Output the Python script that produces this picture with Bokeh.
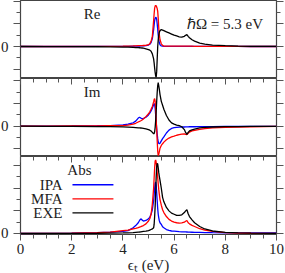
from bokeh.plotting import figure
from bokeh.layouts import column
from bokeh.models import LinearAxis, FixedTicker, SingleIntervalTicker, Label, Range1d
from bokeh.embed import file_html
from bokeh.resources import INLINE

# ---------------- data ----------------
X = [0, 1, 2, 3,
     3.5, 4.0, 4.2, 4.4, 4.5,
     4.6, 4.65, 4.7, 4.75, 4.8,
     4.9, 5.0, 5.05, 5.1, 5.15,
     5.2, 5.22, 5.24, 5.26, 5.28,
     5.30, 5.32, 5.34, 5.36, 5.38,
     5.40, 5.42, 5.45, 5.5, 5.55,
     5.6, 5.7, 5.8, 5.9, 6.0,
     6.1, 6.2, 6.3, 6.4, 6.45,
     6.5, 6.55, 6.6, 6.7, 6.8,
     7.0, 7.2, 7.5, 8.0, 8.5,
     9.0, 10.0]

re_ipa = [0, 0, 0, 0.01,
          0.01, 0.02, 0.02, 0.03, 0.03,
          0.04, 0.04, 0.05, 0.05, 0.06,
          0.08, 0.13, 0.2, 0.35, 0.7,
          1.5, 1.9, 2.3, 2.5, 2.57,
          2.55, 2.4, 2.0, 1.5, 1.0,
          0.6, 0.35, 0.15, 0.05, 0.03,
          0.02, 0.02, 0.02, 0.02, 0.02,
          0.02, 0.02, 0.02, 0.02, 0.02,
          0.02, 0.02, 0.02, 0.02, 0.02,
          0.01, 0.01, 0.01, 0.01, 0.01,
          0, 0]
re_mfa = [0, 0, 0, 0.01,
          0.02, 0.03, 0.04, 0.05, 0.06,
          0.07, 0.07, 0.08, 0.08, 0.09,
          0.1, 0.16, 0.25, 0.45, 0.9,
          2.3, 2.9, 3.4, 3.58, 3.63,
          3.6, 3.5, 3.35, 3.1, 2.5,
          1.7, 1.1, 0.6, 0.24, 0.1,
          0.04, 0.03, 0.03, 0.03, 0.03,
          0.03, 0.03, 0.03, 0.03, 0.03,
          0.03, 0.03, 0.03, 0.03, 0.02,
          0.02, 0.02, 0.01, 0.01, 0.01,
          0, 0]
re_exe = [0, -0.01, -0.01, -0.02,
          -0.03, -0.05, -0.06, -0.08, -0.09,
          -0.1, -0.11, -0.12, -0.13, -0.15,
          -0.2, -0.27, -0.32, -0.42, -0.65,
          -1.1, -1.45, -1.9, -2.3, -2.6,
          -2.72, -2.2, -1.1, 0.0, 0.6,
          1.0, 1.25, 1.4, 1.5, 1.45,
          1.4, 1.3, 1.2, 1.1, 1.0,
          0.93, 0.86, 0.83, 0.9, 1.0,
          1.06, 0.9, 0.78, 0.6, 0.48,
          0.3, 0.21, 0.13, 0.07, 0.04,
          0.02, 0.01]

im_ipa = [0, 0.01, 0.02, 0.04,
          0.06, 0.12, 0.18, 0.3, 0.45,
          0.72, 0.8, 0.72, 0.66, 0.68,
          0.8, 1.0, 1.15, 1.35, 1.6,
          1.9, 2.0, 1.95, 1.6, 1.0,
          0.4, -0.2, -0.7, -1.1, -1.4,
          -1.52, -1.56, -1.5, -1.3, -1.1,
          -0.95, -0.6, -0.35, -0.2, -0.13,
          -0.1, -0.08, -0.07, -0.07, -0.06,
          -0.06, -0.06, -0.05, -0.05, -0.05,
          -0.04, -0.03, -0.03, -0.02, -0.02,
          -0.01, -0.01]
im_mfa = [0, 0.01, 0.02, 0.03,
          0.04, 0.05, 0.1, 0.18, 0.26,
          0.37, 0.42, 0.48, 0.55, 0.63,
          0.85, 1.1, 1.28, 1.5, 1.75,
          2.15, 2.35, 2.45, 2.2, 1.5,
          0.6, -0.3, -1.3, -2.2, -2.6,
          -2.5, -2.3, -1.95, -1.7, -1.55,
          -1.41, -1.2, -1.05, -0.95, -0.88,
          -0.8, -0.75, -0.7, -0.68, -0.72,
          -0.75, -0.62, -0.52, -0.42, -0.36,
          -0.29, -0.22, -0.15, -0.1, -0.08,
          -0.05, -0.02]
im_exe = [0, -0.01, -0.02, -0.03,
          -0.04, -0.06, -0.08, -0.1, -0.12,
          -0.14, -0.15, -0.16, -0.17, -0.19,
          -0.23, -0.3, -0.35, -0.43, -0.55,
          -0.67, -0.65, -0.5, -0.1, 0.5,
          1.3, 2.2, 3.0, 3.6, 3.85,
          3.6, 3.3, 2.8, 2.2, 1.85,
          1.5, 0.95, 0.55, 0.3, 0.18,
          0.1, 0.05, -0.05, -0.3, -0.55,
          -0.73, -0.55, -0.42, -0.32, -0.25,
          -0.15, -0.1, -0.07, -0.04, -0.03,
          -0.02, -0.01]

abs_ipa = [0, 0.01, 0.02, 0.07,
           0.12, 0.18, 0.25, 0.5, 0.7,
           0.95, 1.15, 1.3, 1.2, 1.1,
           1.15, 1.3, 1.45, 1.7, 2.1,
           2.9, 3.4, 4.0, 4.45, 4.55,
           4.3, 3.6, 2.9, 2.2, 1.7,
           1.4, 1.15, 0.95, 0.8, 0.6,
           0.5, 0.35, 0.27, 0.22, 0.2,
           0.18, 0.16, 0.15, 0.14, 0.14,
           0.13, 0.12, 0.12, 0.11, 0.1,
           0.09, 0.08, 0.07, 0.06, 0.05,
           0.05, 0.05]
abs_mfa = [0, 0.01, 0.03, 0.08,
           0.12, 0.25, 0.3, 0.4, 0.45,
           0.52, 0.56, 0.6, 0.65, 0.7,
           0.85, 1.1, 1.3, 1.7, 2.6,
           4.0, 4.9, 5.8, 6.4, 6.5,
           6.3, 5.9, 5.4, 4.9, 4.4,
           3.9, 3.5, 3.0, 2.5, 2.1,
           1.85, 1.5, 1.25, 1.1, 1.0,
           0.95, 0.92, 0.93, 1.0, 1.08,
           1.15, 0.95, 0.85, 0.72, 0.62,
           0.42, 0.3, 0.18, 0.08, 0.04,
           0.02, 0.01]
abs_exe = [0, 0, 0.01, 0.02,
           0.03, 0.05, 0.06, 0.08, 0.1,
           0.12, 0.13, 0.15, 0.17, 0.19,
           0.2, 0.25, 0.3, 0.35, 0.4,
           0.5, 0.8, 1.5, 2.4, 3.6,
           5.0, 5.9, 6.2, 6.15, 5.8,
           5.4, 5.1, 4.7, 4.0, 3.2,
           2.8, 2.3, 2.0, 1.8, 1.7,
           1.6, 1.6, 1.65, 1.85, 2.0,
           2.1, 1.75, 1.5, 1.2, 0.95,
           0.62, 0.4, 0.22, 0.1, 0.05,
           0.03, 0.01]

series_names = ["IPA", "MFA", "EXE"]
series_colors = ["#0000ff", "#ff0000", "#000000"]

# ---------------- styling ----------------
FONT = "Liberation Serif"
FS = "15px"
AXC = "#555555"
FRAME_W = 256
FRAME_H = 78
LEFT = 23
RIGHT = 9


def hide_labels(ax, ticks):
    ax.major_label_overrides = {t: "" for t in ticks}
    ax.major_label_text_font_size = "1px"
    ax.major_label_standoff = 0


def y_axis(ticks, minor, labeled):
    ax = LinearAxis(ticker=FixedTicker(ticks=ticks, minor_ticks=minor))
    ax.axis_line_color = None
    ax.major_tick_out = 7
    ax.major_tick_in = 0
    ax.minor_tick_out = 4
    ax.minor_tick_in = 0
    ax.major_tick_line_color = AXC
    ax.minor_tick_line_color = AXC
    if labeled:
        ax.major_label_overrides = {t: ("0" if t == 0 else "") for t in ticks}
        ax.major_label_text_font = FONT
        ax.major_label_text_font_size = FS
        ax.major_label_text_color = "#222222"
        ax.major_label_standoff = 5
    else:
        hide_labels(ax, ticks)
    return ax


def x_axis_top():
    ax = LinearAxis(ticker=SingleIntervalTicker(interval=2, num_minor_ticks=4))
    ax.axis_line_color = None
    ax.major_tick_out = 0
    ax.major_tick_in = 6
    ax.minor_tick_out = 0
    ax.minor_tick_in = 4
    ax.major_tick_line_color = AXC
    ax.minor_tick_line_color = AXC
    hide_labels(ax, [0, 2, 4, 6, 8, 10])
    return ax


def panel(yr, ticks, minor, top_axis, bottom_axis):
    p = figure(frame_width=FRAME_W, frame_height=FRAME_H,
               x_range=Range1d(0, 10), y_range=Range1d(*yr),
               output_backend="svg", toolbar_location=None,
               x_axis_location=None, y_axis_location=None,
               min_border_left=LEFT, min_border_right=RIGHT,
               min_border_top=0, min_border_bottom=0)
    p.grid.visible = False
    p.outline_line_color = "#444444"
    p.outline_line_width = 1.2
    p.background_fill_color = "white"
    p.border_fill_color = "white"
    p.add_layout(y_axis(ticks, minor, True), "left")
    p.add_layout(y_axis(ticks, minor, False), "right")
    if top_axis:
        p.add_layout(x_axis_top(), "above")
    if bottom_axis:
        ax = LinearAxis(ticker=SingleIntervalTicker(interval=2, num_minor_ticks=4))
        ax.axis_line_color = None
        ax.major_tick_out = 6
        ax.major_tick_in = 0
        ax.minor_tick_out = 4
        ax.minor_tick_in = 0
        ax.major_tick_line_color = AXC
        ax.minor_tick_line_color = AXC
        ax.major_label_text_font = FONT
        ax.major_label_text_font_size = FS
        ax.major_label_text_color = "#222222"
        ax.major_label_standoff = 3
        ax.axis_label = "ϵₜ (eV)"
        ax.axis_label_text_font = FONT
        ax.axis_label_text_font_size = FS
        ax.axis_label_text_font_style = "normal"
        ax.axis_label_text_color = "#222222"
        ax.axis_label_standoff = 0
        p.add_layout(ax, "below")
    return p


def draw(p, ys):
    for y, c in zip(ys, series_colors):
        p.line(X, y, line_color=c, line_width=1.3)


def lab(p, x, y, text, align="center"):
    p.add_layout(Label(x=x, y=y, text=text, text_font=FONT, text_font_size=FS,
                       text_color="#222222", text_align=align,
                       text_baseline="middle"))


p1 = panel((-2.83, 4.07), [-2, 0, 2, 4], [-1, 1, 3], False, False)
draw(p1, [re_ipa, re_mfa, re_exe])
lab(p1, 2.8, 2.92, "Re")
lab(p1, 6.5, 1.95, "ℏΩ = 5.3 eV", "left")

p2 = panel((-2.68, 4.22), [-2, 0, 2, 4], [-1, 1, 3], True, False)
draw(p2, [im_ipa, im_mfa, im_exe])
lab(p2, 2.8, 3.07, "Im")

p3 = panel((-0.09, 6.81), [0, 2, 4, 6], [1, 3, 5], True, True)
draw(p3, [abs_ipa, abs_mfa, abs_exe])
lab(p3, 2.3, 5.66, "Abs")
legend_y = [4.31, 3.07, 1.83]
for name, c, ly in zip(series_names, series_colors, legend_y):
    lab(p3, 1.64, ly, name, "right")
    p3.line([2.03, 3.63], [ly, ly], line_color=c, line_width=1.3)

layout = column(p1, p2, p3, spacing=0)
layout.styles = {"position": "absolute", "left": "-3px", "top": "0px"}

open("out.html", "w").write(file_html(layout, INLINE))
